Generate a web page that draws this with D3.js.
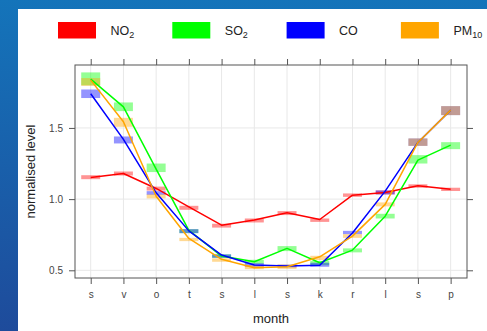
<!DOCTYPE html>
<html>
<head>
<meta charset="utf-8">
<script src="https://cdnjs.cloudflare.com/ajax/libs/d3/7.8.5/d3.min.js"></script>
<style>
  html, body { margin: 0; padding: 0; }
  body { width: 487px; height: 331px; overflow: hidden; font-family: "Liberation Sans", Arial, sans-serif; }
</style>
</head>
<body>
<div id="chart"></div>
<script>
// months (tick labels as in the picture)
const months = ["s", "v", "o", "t", "s", "l", "s", "k", "r", "l", "s", "p"];

// mean normalised level per month, and the interval shown as the pale boxes
const no2Mean = [1.152, 1.180, 1.075, 0.946, 0.817, 0.853, 0.904, 0.857, 1.028, 1.047, 1.094, 1.070];
const no2Lo   = [1.140, 1.166, 1.060, 0.925, 0.800, 0.836, 0.888, 0.840, 1.016, 1.033, 1.080, 1.057];
const no2Hi   = [1.168, 1.194, 1.088, 0.953, 0.827, 0.864, 0.916, 0.864, 1.040, 1.061, 1.104, 1.080];

const so2Mean = [1.843, 1.648, 1.210, 0.780, 0.600, 0.560, 0.654, 0.553, 0.642, 0.880, 1.274, 1.379];
const so2Lo   = [1.800, 1.618, 1.190, 0.761, 0.588, 0.546, 0.635, 0.536, 0.626, 0.864, 1.250, 1.351];
const so2Hi   = [1.890, 1.679, 1.250, 0.789, 0.612, 0.574, 0.670, 0.565, 0.654, 0.897, 1.309, 1.400];

const coMean  = [1.740, 1.420, 1.044, 0.777, 0.607, 0.537, 0.530, 0.536, 0.762, 1.056, 1.398, 1.625];
const coLo    = [1.710, 1.391, 1.030, 0.761, 0.588, 0.525, 0.520, 0.525, 0.754, 1.033, 1.374, 1.590];
const coHi    = [1.770, 1.440, 1.056, 0.789, 0.612, 0.550, 0.540, 0.553, 0.777, 1.061, 1.426, 1.653];

const pm10Mean = [1.836, 1.543, 1.020, 0.724, 0.577, 0.518, 0.525, 0.595, 0.740, 0.963, 1.398, 1.625];
const pm10Lo   = [1.795, 1.508, 1.005, 0.705, 0.560, 0.508, 0.510, 0.572, 0.728, 0.949, 1.374, 1.590];
const pm10Hi   = [1.850, 1.571, 1.033, 0.728, 0.584, 0.537, 0.540, 0.602, 0.754, 0.977, 1.426, 1.653];

const yTicks = [0.5, 1.0, 1.5];

const series = [
  {name: "NO", sub: "2",  color: "#ff0000", mean: no2Mean,  lo: no2Lo,  hi: no2Hi},
  {name: "SO", sub: "2",  color: "#00ff00", mean: so2Mean,  lo: so2Lo,  hi: so2Hi},
  {name: "CO", sub: "",   color: "#0000ff", mean: coMean,   lo: coLo,   hi: coHi},
  {name: "PM", sub: "10", color: "#ffa500", mean: pm10Mean, lo: pm10Lo, hi: pm10Hi}
];

const W = 487, H = 331;
const panel = {left: 75, right: 467, top: 65, bottom: 278};

const svg = d3.select("#chart").append("svg")
  .attr("width", W).attr("height", H);

// blue page background with a white card on it
const grad = svg.append("defs").append("linearGradient")
  .attr("id", "bg").attr("x1", 0).attr("y1", 0).attr("x2", 0).attr("y2", 1);
grad.append("stop").attr("offset", "0%").attr("stop-color", "#1474ba");
grad.append("stop").attr("offset", "100%").attr("stop-color", "#1e4b9b");
svg.append("rect").attr("width", W).attr("height", H).attr("fill", "url(#bg)");
svg.append("rect").attr("x", 18).attr("y", 9).attr("width", W - 18).attr("height", H - 9).attr("fill", "#fff");

const x = d3.scaleLinear().domain([0.52, 12.5]).range([panel.left, panel.right]);
const y = d3.scaleLinear().domain([0.446, 1.942]).range([panel.bottom, panel.top]);
const idx = d3.range(1, months.length + 1);

// grid
const grid = svg.append("g").attr("stroke", "#e8e8e8").attr("stroke-width", 1);
grid.selectAll(".gx").data(idx).join("line")
  .attr("x1", d => x(d)).attr("x2", d => x(d))
  .attr("y1", panel.top).attr("y2", panel.bottom);
grid.selectAll(".gy").data(yTicks).join("line")
  .attr("x1", panel.left).attr("x2", panel.right)
  .attr("y1", d => y(d)).attr("y2", d => y(d));

// interval boxes
const halfW = 0.29;
series.forEach(s => {
  svg.append("g").selectAll("rect").data(idx).join("rect")
    .attr("x", d => x(d - halfW))
    .attr("width", d => x(d + halfW) - x(d - halfW))
    .attr("y", d => y(s.hi[d - 1]))
    .attr("height", d => y(s.lo[d - 1]) - y(s.hi[d - 1]))
    .attr("fill", s.color)
    .attr("fill-opacity", 0.42);
});

// lines
const line = d3.line().x(d => x(d[0])).y(d => y(d[1]));
series.forEach(s => {
  svg.append("path")
    .datum(idx.map(d => [d, s.mean[d - 1]]))
    .attr("d", line)
    .attr("fill", "none")
    .attr("stroke", s.color)
    .attr("stroke-width", 1.5)
    .attr("stroke-linejoin", "round");
});

// panel border
svg.append("rect")
  .attr("x", panel.left).attr("y", panel.top)
  .attr("width", panel.right - panel.left).attr("height", panel.bottom - panel.top)
  .attr("fill", "none").attr("stroke", "#555").attr("stroke-width", 1);

// axes
function styleAxis(g) {
  g.select(".domain").remove();
  g.selectAll(".tick line").attr("stroke", "#555");
  g.selectAll(".tick text").attr("fill", "#444").style("font-size", "10px")
    .style("font-family", "'Liberation Sans', Arial, sans-serif");
}
svg.append("g").attr("transform", `translate(${panel.left},0)`)
  .call(d3.axisLeft(y).tickValues(yTicks).tickSize(6).tickPadding(6).tickFormat(d3.format(".1f")))
  .call(styleAxis);
svg.append("g").attr("transform", `translate(${panel.right},0)`)
  .call(d3.axisRight(y).tickValues(yTicks).tickSize(6).tickFormat(""))
  .call(styleAxis);
svg.append("g").attr("transform", `translate(0,${panel.bottom})`)
  .call(d3.axisBottom(x).tickValues(idx).tickSize(6).tickPadding(7).tickFormat(d => months[d - 1]))
  .call(styleAxis);
svg.append("g").attr("transform", `translate(0,${panel.top})`)
  .call(d3.axisTop(x).tickValues(idx).tickSize(6).tickFormat(""))
  .call(styleAxis);

// axis titles
svg.append("text")
  .attr("x", (panel.left + panel.right) / 2).attr("y", 323)
  .attr("text-anchor", "middle").attr("fill", "#222")
  .style("font-size", "13px").text("month");
svg.append("text")
  .attr("transform", `translate(35,${(panel.top + panel.bottom) / 2}) rotate(-90)`)
  .attr("text-anchor", "middle").attr("fill", "#222")
  .style("font-size", "13px").text("normalised level");

// legend
const legend = svg.append("g");
series.forEach((s, i) => {
  const lx = 58 + i * 114.3;
  legend.append("rect")
    .attr("x", lx).attr("y", 22).attr("width", 38).attr("height", 16.5)
    .attr("fill", s.color);
  const t = legend.append("text")
    .attr("x", lx + 52.5).attr("y", 35)
    .attr("fill", "#222").style("font-size", "12.5px");
  t.append("tspan").text(s.name);
  if (s.sub) {
    t.append("tspan").attr("dy", 3).style("font-size", "9px").text(s.sub);
  }
});
</script>
</body>
</html>
